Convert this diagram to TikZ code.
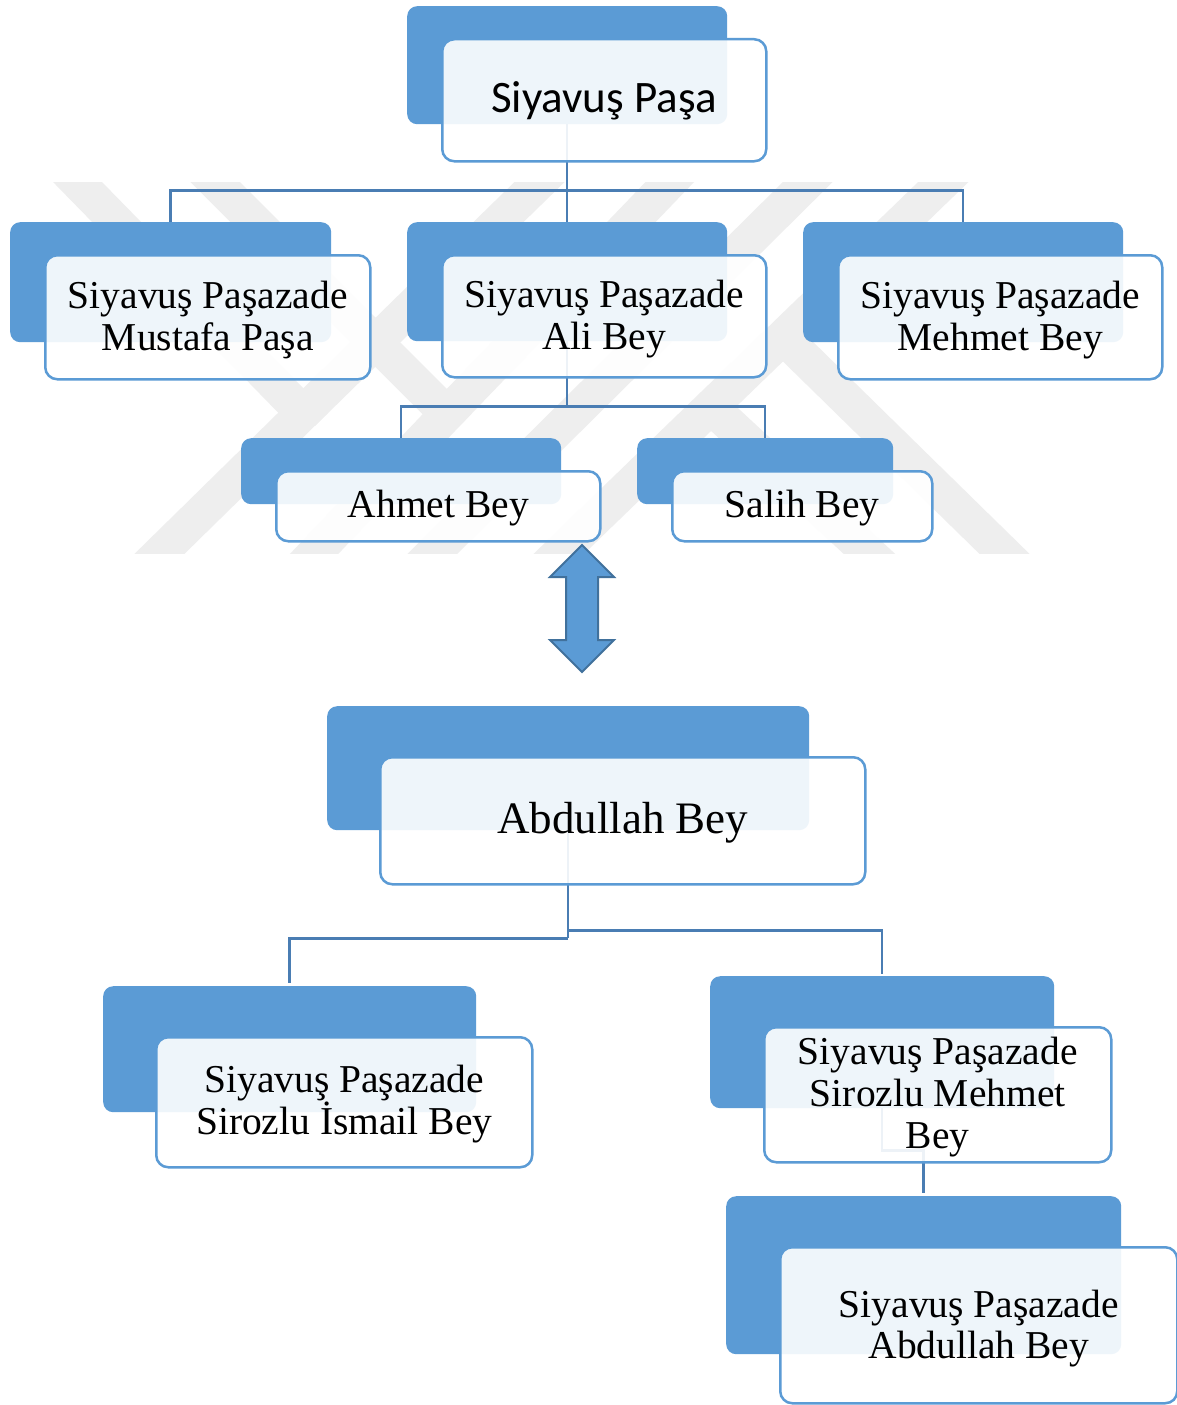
\documentclass[tikz,border=0pt]{standalone}
\usepackage{fontspec}
\setmainfont{Liberation Serif}
\newfontfamily\calibrifont{Carlito}
\definecolor{boxblue}{HTML}{5B9BD5}
\definecolor{linkblue}{HTML}{4A7DB3}
\definecolor{arrowedge}{HTML}{41719C}
\definecolor{wmgray}{HTML}{EEEEEE}
\begin{document}
\begin{tikzpicture}[x=1pt,y=-1pt,
  backbox/.style={fill=boxblue, draw=none, rounded corners=10pt, anchor=north west, inner sep=0pt},
  frontbox/.style={fill=white, fill opacity=0.9, draw=boxblue, line width=2.5pt,
     rounded corners=12pt, anchor=north west, inner sep=0pt},
  txt/.style={align=center, inner sep=0pt, font=\fontsize{39.5}{42}\selectfont},
  conn/.style={draw=linkblue, line width=2.5pt},
  wm/.style={draw=wmgray, line width=35pt, line join=miter},
  dblarrow/.style={fill=boxblue, draw=arrowedge, line width=2pt, line join=miter}
]
\useasboundingbox (0,0) rectangle (1177,1405);
\fill[white] (0,0) rectangle (1177,1405);

% watermark
\begin{scope}
\clip (0,182) rectangle (1177,553);
\draw[wm] (58,162) -- (303,413) -- (140,573);
\draw[wm] (303,413) -- (561,161);
\draw[wm] (195,162) -- (447,414) -- (296,573);
\draw[wm] (447,414) -- (689,162);
\draw[wm] (828,162) -- (413,573);
\draw[wm] (964,162) -- (539,573);
\draw[wm] (783,337) -- (1024,573);
\draw[wm] (711,407) -- (890,573);
\end{scope}

% back boxes
\node[backbox, minimum width=320pt, minimum height=118pt] (b1) at (407,6) {};
\node[backbox, minimum width=321pt, minimum height=120pt] (b2) at (10,222) {};
\node[backbox, minimum width=320pt, minimum height=119pt] (b3) at (407,222) {};
\node[backbox, minimum width=320pt, minimum height=120pt] (b4) at (803,222) {};
\node[backbox, minimum width=320pt, minimum height=66pt] (b5) at (241,438) {};
\node[backbox, minimum width=256pt, minimum height=66pt] (b6) at (637,438) {};
\node[backbox, minimum width=482pt, minimum height=124pt] (b8) at (327,706) {};
\node[backbox, minimum width=373pt, minimum height=126pt] (b9) at (103,986) {};
\node[backbox, minimum width=344pt, minimum height=132pt] (b10) at (710,976) {};
\node[backbox, minimum width=395pt, minimum height=158pt] (b11) at (726,1196) {};

% connectors
\draw[conn] (b1.south) -- ++(0,66) coordinate (j1);
\draw[conn] (j1) -| (b2.north);
\draw[conn] (j1) -- (b3.north);
\draw[conn] (j1) -| (b4.north);
\draw[conn] (b3.south) -- ++(0,65) coordinate (j2);
\draw[conn] (j2) -| (b5.north);
\draw[conn] (j2) -| (b6.north);
\draw[conn] (b8.south) -- ++(0,108) coordinate (j3);
\draw[conn] (j3) -| ([yshift=3pt]b9.north);
\draw[conn] ([yshift=8pt]j3) -| ([yshift=2pt]b10.north);
\draw[conn] (b10.south) -- ++(0,42) -| ([yshift=3pt]b11.north);

% front boxes
\node[frontbox, minimum width=324pt, minimum height=122pt] (f1) at (441,38) {};
\node[frontbox, minimum width=325pt, minimum height=124pt] (f2) at (44,254) {};
\node[frontbox, minimum width=324pt, minimum height=122pt] (f3) at (441,254) {};
\node[frontbox, minimum width=324pt, minimum height=124pt] (f4) at (837,254) {};
\node[frontbox, minimum width=324pt, minimum height=70pt] (f5) at (275,470) {};
\node[frontbox, minimum width=260pt, minimum height=70pt] (f6) at (671,470) {};
\node[frontbox, minimum width=485pt, minimum height=127pt] (f8) at (379,756) {};
\node[frontbox, minimum width=376pt, minimum height=130pt] (f9) at (155,1036) {};
\node[frontbox, minimum width=347pt, minimum height=135pt] (f10) at (763,1026) {};
\node[frontbox, minimum width=397pt, minimum height=156pt] (f11) at (779,1246) {};

% texts
\node[txt, font=\calibrifont\fontsize{45}{48}\selectfont] (t1) at ([yshift=-1pt]f1.center) {Siyavuş Paşa};
\node[txt] (t2) at ([yshift=-3pt]f2.center) {Siyavuş Paşazade\\Mustafa Paşa};
\node[txt] (t3) at ([yshift=-3pt]f3.center) {Siyavuş Paşazade\\Ali Bey};
\node[txt] (t4) at ([yshift=-3pt]f4.center) {Siyavuş Paşazade\\Mehmet Bey};
\node[txt] (t5) at ([yshift=-2pt]f5.center) {Ahmet Bey};
\node[txt] (t6) at ([yshift=-2pt]f6.center) {Salih Bey};
\node[txt, font=\fontsize{45}{48}\selectfont] (t8) at ([yshift=-2pt]f8.center) {Abdullah Bey};
\node[txt] (t9) at ([yshift=-2pt]f9.center) {Siyavuş Paşazade\\Sirozlu İsmail Bey};
\node[txt] (t10) at ([yshift=-2pt]f10.center) {Siyavuş Paşazade\\Sirozlu Mehmet\\Bey};
\node[txt, font=\fontsize{39.5}{41}\selectfont] (t11) at ([yshift=-3pt]f11.center) {Siyavuş Paşazade\\Abdullah Bey};

% double arrow between Ahmet Bey and Abdullah Bey
\draw[dblarrow] (582,545) -- (614,577) -- (598,577) -- (598,640) -- (614,640) -- (582,672)
  -- (550,640) -- (566,640) -- (566,577) -- (550,577) -- cycle;
\end{tikzpicture}
\end{document}
